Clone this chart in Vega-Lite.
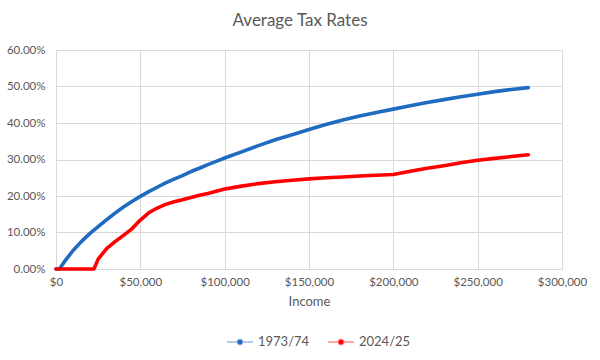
{
  "$schema": "https://vega.github.io/schema/vega-lite/v6.json",
  "autosize": {"type": "none"},
  "width": 506,
  "height": 219,
  "padding": {"left": 56, "top": 50, "right": 38, "bottom": 91},
  "background": "white",
  "title": {"text": "Average Tax Rates", "fontSize": 17, "font": "Lato", "fontWeight": "normal", "color": "#595959", "offset": 14, "dx": -9},
  "config": {
    "font": "Lato",
    "view": {"stroke": null},
    "axis": {"labelColor": "#595959", "labelFont": "Lato", "labelFontSize": 11.5, "titleColor": "#595959", "titleFont": "Lato", "titleFontWeight": "normal", "titleFontSize": 13, "gridColor": "#d9d9d9", "domainColor": "#d9d9d9", "ticks": false}
  },
  "data": {"values": [
    {"income": 0, "rate": 0, "year": "1973/74"},
    {"income": 2000, "rate": 0, "year": "1973/74"},
    {"income": 5000, "rate": 0.020, "year": "1973/74"},
    {"income": 10000, "rate": 0.050, "year": "1973/74"},
    {"income": 15000, "rate": 0.075, "year": "1973/74"},
    {"income": 20000, "rate": 0.097, "year": "1973/74"},
    {"income": 25000, "rate": 0.116, "year": "1973/74"},
    {"income": 30000, "rate": 0.135, "year": "1973/74"},
    {"income": 35000, "rate": 0.153, "year": "1973/74"},
    {"income": 40000, "rate": 0.170, "year": "1973/74"},
    {"income": 45000, "rate": 0.185, "year": "1973/74"},
    {"income": 50000, "rate": 0.199, "year": "1973/74"},
    {"income": 55000, "rate": 0.212, "year": "1973/74"},
    {"income": 60000, "rate": 0.224, "year": "1973/74"},
    {"income": 65000, "rate": 0.236, "year": "1973/74"},
    {"income": 70000, "rate": 0.246, "year": "1973/74"},
    {"income": 75000, "rate": 0.256, "year": "1973/74"},
    {"income": 80000, "rate": 0.267, "year": "1973/74"},
    {"income": 85000, "rate": 0.276, "year": "1973/74"},
    {"income": 90000, "rate": 0.286, "year": "1973/74"},
    {"income": 95000, "rate": 0.295, "year": "1973/74"},
    {"income": 100000, "rate": 0.304, "year": "1973/74"},
    {"income": 110000, "rate": 0.321, "year": "1973/74"},
    {"income": 120000, "rate": 0.338, "year": "1973/74"},
    {"income": 130000, "rate": 0.354, "year": "1973/74"},
    {"income": 140000, "rate": 0.368, "year": "1973/74"},
    {"income": 150000, "rate": 0.382, "year": "1973/74"},
    {"income": 160000, "rate": 0.396, "year": "1973/74"},
    {"income": 170000, "rate": 0.408, "year": "1973/74"},
    {"income": 180000, "rate": 0.419, "year": "1973/74"},
    {"income": 190000, "rate": 0.429, "year": "1973/74"},
    {"income": 200000, "rate": 0.438, "year": "1973/74"},
    {"income": 210000, "rate": 0.447, "year": "1973/74"},
    {"income": 220000, "rate": 0.456, "year": "1973/74"},
    {"income": 230000, "rate": 0.464, "year": "1973/74"},
    {"income": 240000, "rate": 0.472, "year": "1973/74"},
    {"income": 250000, "rate": 0.479, "year": "1973/74"},
    {"income": 260000, "rate": 0.486, "year": "1973/74"},
    {"income": 270000, "rate": 0.492, "year": "1973/74"},
    {"income": 280000, "rate": 0.497, "year": "1973/74"},
    {"income": 0, "rate": 0, "year": "2024/25"},
    {"income": 10000, "rate": 0, "year": "2024/25"},
    {"income": 20000, "rate": 0, "year": "2024/25"},
    {"income": 22500, "rate": 0, "year": "2024/25"},
    {"income": 25000, "rate": 0.027, "year": "2024/25"},
    {"income": 30000, "rate": 0.056, "year": "2024/25"},
    {"income": 35000, "rate": 0.075, "year": "2024/25"},
    {"income": 40000, "rate": 0.092, "year": "2024/25"},
    {"income": 45000, "rate": 0.110, "year": "2024/25"},
    {"income": 50000, "rate": 0.134, "year": "2024/25"},
    {"income": 55000, "rate": 0.154, "year": "2024/25"},
    {"income": 60000, "rate": 0.167, "year": "2024/25"},
    {"income": 65000, "rate": 0.177, "year": "2024/25"},
    {"income": 70000, "rate": 0.184, "year": "2024/25"},
    {"income": 75000, "rate": 0.190, "year": "2024/25"},
    {"income": 80000, "rate": 0.196, "year": "2024/25"},
    {"income": 85000, "rate": 0.202, "year": "2024/25"},
    {"income": 90000, "rate": 0.207, "year": "2024/25"},
    {"income": 95000, "rate": 0.213, "year": "2024/25"},
    {"income": 100000, "rate": 0.219, "year": "2024/25"},
    {"income": 110000, "rate": 0.227, "year": "2024/25"},
    {"income": 120000, "rate": 0.234, "year": "2024/25"},
    {"income": 130000, "rate": 0.239, "year": "2024/25"},
    {"income": 140000, "rate": 0.243, "year": "2024/25"},
    {"income": 150000, "rate": 0.247, "year": "2024/25"},
    {"income": 160000, "rate": 0.250, "year": "2024/25"},
    {"income": 170000, "rate": 0.252, "year": "2024/25"},
    {"income": 180000, "rate": 0.255, "year": "2024/25"},
    {"income": 190000, "rate": 0.257, "year": "2024/25"},
    {"income": 200000, "rate": 0.259, "year": "2024/25"},
    {"income": 210000, "rate": 0.268, "year": "2024/25"},
    {"income": 220000, "rate": 0.276, "year": "2024/25"},
    {"income": 230000, "rate": 0.283, "year": "2024/25"},
    {"income": 240000, "rate": 0.291, "year": "2024/25"},
    {"income": 250000, "rate": 0.298, "year": "2024/25"},
    {"income": 260000, "rate": 0.303, "year": "2024/25"},
    {"income": 270000, "rate": 0.308, "year": "2024/25"},
    {"income": 280000, "rate": 0.313, "year": "2024/25"}
  ]},
  "mark": {"type": "line", "strokeWidth": 3.6, "strokeCap": "round", "strokeJoin": "round"},
  "encoding": {
    "x": {"field": "income", "type": "quantitative", "title": "Income",
      "scale": {"domain": [0, 300000], "nice": false},
      "axis": {"format": "$,.0f", "values": [0, 50000, 100000, 150000, 200000, 250000, 300000], "labelPadding": 7, "titlePadding": 8, "labelFlush": false}},
    "y": {"field": "rate", "type": "quantitative", "title": null,
      "scale": {"domain": [0, 0.6], "nice": false},
      "axis": {"format": ".2%", "values": [0, 0.1, 0.2, 0.3, 0.4, 0.5, 0.6], "labelPadding": 11, "domain": false}},
    "color": {"field": "year", "type": "nominal", "title": null,
      "scale": {"domain": ["1973/74", "2024/25"], "range": ["#1f6bc1", "#ff0000"]},
      "legend": {"orient": "none", "direction": "horizontal", "legendX": 170, "legendY": 278,
        "symbolType": "M-1,0H1M-0.2,0A0.2,0.2 0 1,1 0.2,0A0.2,0.2 0 1,1 -0.2,0Z",
        "symbolSize": 676, "symbolStrokeWidth": 1.8, "labelFontSize": 13, "labelColor": "#595959", "labelFont": "Lato", "columnPadding": 14,
        "encode": {"symbols": {"update": {"fill": {"scale": "color", "field": "value"}, "strokeOpacity": {"value": 0.35}}}}}}
  }
}
